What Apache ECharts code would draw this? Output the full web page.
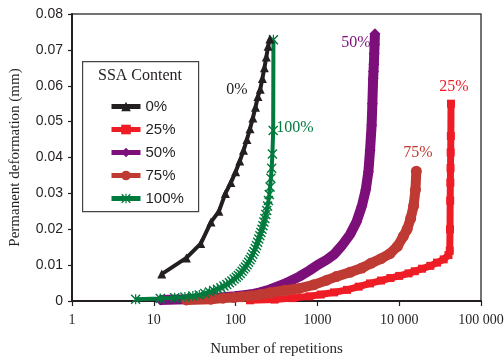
<!DOCTYPE html>
<html>
<head>
<meta charset="utf-8">
<script src="https://cdn.jsdelivr.net/npm/echarts@6/dist/echarts.min.js"></script>
<style>html,body{margin:0;padding:0;background:#fff;overflow:hidden}#c{width:504px;height:358px}</style>
</head>
<body>
<div id="c"></div>
<script>
// ---- data ----
const xTickLabels = ['1', '10', '100', '1000', '10 000', '100 000'];
const seriesNames = ['0%', '25%', '50%', '75%', '100%'];

const n0 = [12.5, 25, 37.5, 50, 62.5, 75, 87.5, 100, 112.5, 125, 137.5, 150, 162.5, 175, 187.5, 200, 212.5, 225, 237.5, 250, 262.5];
const v0 = [0.0075, 0.012, 0.016, 0.022, 0.025, 0.030, 0.033, 0.036, 0.039, 0.042, 0.045, 0.048, 0.051, 0.054, 0.057, 0.059, 0.062, 0.065, 0.068, 0.071, 0.073];

const n25 = [150, 300, 500, 800, 1100, 1600, 2300, 3200, 4400, 6000, 7800, 10000, 13000, 15500, 19000, 24000, 29000, 35000, 40000, 41500, 41800, 42000, 42200, 42400, 42600, 42800, 43000];
const v25 = [0.0002, 0.0004, 0.0008, 0.0013, 0.0018, 0.0024, 0.0031, 0.0040, 0.0049, 0.0057, 0.0064, 0.0070, 0.0077, 0.0083, 0.0090, 0.0098, 0.0107, 0.0116, 0.0128, 0.0140, 0.0200, 0.0280, 0.0330, 0.0370, 0.0414, 0.0460, 0.0550];

const n50 = [12, 25, 50, 100, 150, 200, 263, 400, 600, 800, 1000, 1300, 1600, 2000, 2500, 3000, 3500, 3900, 4200, 4400, 4600, 4700, 4800, 4850, 4900, 4950, 5000, 5050];
const v50 = [0.0003, 0.0005, 0.0008, 0.0013, 0.0018, 0.0024, 0.0032, 0.0048, 0.0068, 0.0085, 0.0100, 0.0115, 0.0130, 0.0155, 0.0185, 0.0220, 0.0265, 0.0310, 0.0360, 0.0420, 0.0490, 0.0550, 0.0620, 0.0640, 0.0660, 0.0690, 0.0715, 0.0745];

const n75 = [25, 50, 70, 95, 120, 150, 200, 263, 400, 600, 900, 1300, 1700, 2500, 3500, 4500, 6000, 7700, 9500, 11200, 12500, 13800, 15000, 15800, 16200];
const v75 = [0.0003, 0.0005, 0.0008, 0.0010, 0.0012, 0.0014, 0.0018, 0.0023, 0.0030, 0.0035, 0.0045, 0.0058, 0.0068, 0.0080, 0.0092, 0.0105, 0.0118, 0.0132, 0.0152, 0.0180, 0.0200, 0.0230, 0.0265, 0.0310, 0.0362];

const n100 = [6, 12, 18, 24, 30, 36, 42, 48, 54, 60, 66, 72, 78, 84, 90, 96, 102, 108, 114, 120, 126, 132, 138, 144, 150, 156, 162, 168, 174, 180, 186, 192, 198, 204, 210, 216, 222, 228, 234, 240, 246, 252, 258, 264, 270, 276, 282, 288, 290];
const v100 = [0.0005, 0.0007, 0.0009, 0.0011, 0.0014, 0.0017, 0.0021, 0.0025, 0.0029, 0.0033, 0.0037, 0.0042, 0.0046, 0.0051, 0.0056, 0.0061, 0.0066, 0.0071, 0.0077, 0.0083, 0.0089, 0.0095, 0.0101, 0.0108, 0.0115, 0.0122, 0.0130, 0.0138, 0.0146, 0.0155, 0.0164, 0.0173, 0.0182, 0.0191, 0.0200, 0.0210, 0.0220, 0.0230, 0.0241, 0.0252, 0.0265, 0.0280, 0.0297, 0.0318, 0.0342, 0.0370, 0.0410, 0.0475, 0.0728];

// ---- styling ----
const colors = ['#231f20', '#ee1c25', '#7d0f7a', '#be3a32', '#007a3d'];
const asterisk = 'path://M0,1L1,0L10,9L9,10Z M9,0L10,1L1,10L0,9Z M4.4,0L5.6,0L5.6,10L4.4,10Z';
const zip = (a, b) => a.map((x, i) => [x, b[i]]);

const chart = echarts.init(document.getElementById('c'), null, {renderer: 'canvas'});

const serif = '"Liberation Serif", "Times New Roman", serif';
const sans = '"Liberation Sans", Arial, sans-serif';

chart.setOption({
  animation: false,
  grid: {left: 72, right: 23, top: 14, bottom: 57, outerBoundsMode: 'none', containLabel: false,
         show: true, borderColor: '#444', borderWidth: 1.5},
  xAxis: {
    type: 'log', logBase: 10, min: 1, max: 100000,
    name: 'Number of repetitions', nameLocation: 'middle', nameGap: 41,
    nameTextStyle: {fontFamily: serif, fontSize: 15, color: '#231f20'},
    axisLine: {lineStyle: {color: '#231f20', width: 2}},
    axisTick: {show: true, length: 5, lineStyle: {color: '#231f20', width: 1.2}},
    minorTick: {show: false},
    splitLine: {show: false},
    axisLabel: {
      fontFamily: serif, fontSize: 14, color: '#231f20', margin: 12,
      formatter: v => xTickLabels[Math.round(Math.log10(v))]
    }
  },
  yAxis: {
    type: 'value', min: 0, max: 0.08, interval: 0.01,
    name: 'Permanent deformation (mm)', nameLocation: 'middle', nameGap: 49,
    nameTextStyle: {fontFamily: serif, fontSize: 15, color: '#231f20'},
    axisLine: {show: true, lineStyle: {color: '#231f20', width: 2}},
    axisTick: {show: true, length: 4, lineStyle: {color: '#231f20', width: 1.2}},
    splitLine: {show: false},
    axisLabel: {
      fontFamily: sans, fontSize: 14, color: '#231f20', margin: 9,
      formatter: v => v === 0 ? '0' : v.toFixed(2)
    }
  },
  legend: {
    orient: 'vertical', left: 104, top: 94, z: 10,
    itemWidth: 29, itemHeight: 12, itemGap: 8,
    lineStyle: {width: 5},
    textStyle: {fontFamily: sans, fontSize: 15, color: '#231f20', lineHeight: 15},
    data: seriesNames
  },
  graphic: [
    {type: 'rect', left: 82, top: 61, z: 1, shape: {width: 116, height: 150},
     style: {fill: '#fff', stroke: '#444', lineWidth: 1.2}},
    {type: 'text', z: 11, style: {text: 'SSA Content', x: 140, y: 76, align: 'center', verticalAlign: 'middle', font: '16px ' + serif, fill: '#231f20'}},
    {type: 'text', z: 11, style: {text: '0%', x: 237, y: 90, align: 'center', verticalAlign: 'middle', font: '16px ' + serif, fill: colors[0]}},
    {type: 'text', z: 11, style: {text: '50%', x: 356, y: 43, align: 'center', verticalAlign: 'middle', font: '16px ' + serif, fill: colors[2]}},
    {type: 'text', z: 11, style: {text: '25%', x: 454, y: 87, align: 'center', verticalAlign: 'middle', font: '16px ' + serif, fill: colors[1]}},
    {type: 'text', z: 11, style: {text: '75%', x: 418, y: 153, align: 'center', verticalAlign: 'middle', font: '16px ' + serif, fill: colors[3]}},
    {type: 'text', z: 11, style: {text: '100%', x: 295, y: 128, align: 'center', verticalAlign: 'middle', font: '16px ' + serif, fill: colors[4]}}
  ],
  series: [
    {name: '0%', type: 'line', z: 7, data: zip(n0, v0), symbol: 'triangle', symbolSize: 9,
     lineStyle: {color: colors[0], width: 4}, itemStyle: {color: colors[0]}},
    {name: '25%', type: 'line', z: 3, data: zip(n25, v25), symbol: 'rect', symbolSize: 8,
     lineStyle: {color: colors[1], width: 7}, itemStyle: {color: colors[1]}},
    {name: '50%', type: 'line', z: 4, data: zip(n50, v50), symbol: 'diamond', symbolSize: 11,
     lineStyle: {color: colors[2], width: 10}, itemStyle: {color: colors[2]}},
    {name: '75%', type: 'line', z: 5, data: zip(n75, v75), symbol: 'circle', symbolSize: 11,
     lineStyle: {color: colors[3], width: 10}, itemStyle: {color: colors[3]}},
    {name: '100%', type: 'line', z: 6, data: zip(n100, v100), symbol: asterisk, symbolSize: 10,
     lineStyle: {color: colors[4], width: 4}, itemStyle: {color: colors[4]}}
  ]
});
</script>
</body>
</html>
